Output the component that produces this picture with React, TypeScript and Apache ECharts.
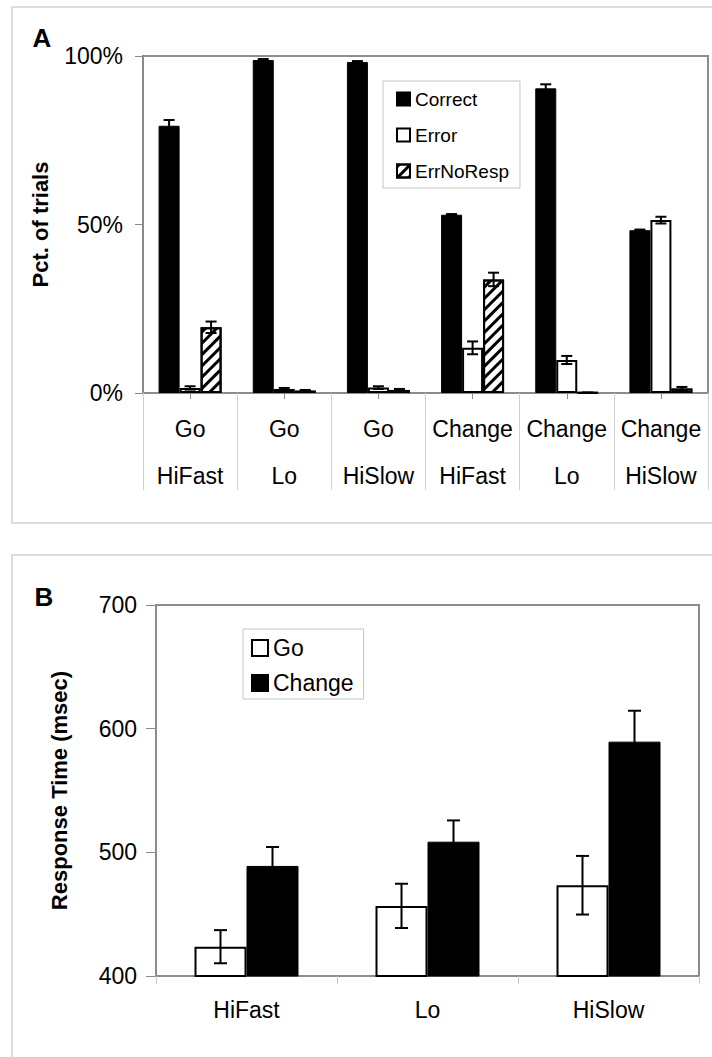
import React, { useEffect, useRef } from 'react';
import * as echarts from 'echarts';

// ---- Panel A data ----
const catsA = ['Go\nHiFast', 'Go\nLo', 'Go\nHiSlow', 'Change\nHiFast', 'Change\nLo', 'Change\nHiSlow'];
const correctPct = [79.3, 98.8, 98.2, 52.9, 90.4, 48.3];
const correctErr = [1.7, 0.3, 0.3, 0.2, 1.2, 0.2];
const errorPct = [1.5, 1.2, 1.6, 13.4, 9.8, 51.3];
const errorErr = [0.5, 0.3, 0.4, 1.9, 1.2, 1.0];
const noRespPct = [19.5, 0.7, 0.9, 33.7, 0.1, 1.3];
const noRespErr = [1.7, 0.2, 0.3, 2.0, 0.0, 0.5];
const ticksA = [0, 50, 100];

// ---- Panel B data ----
const catsB = ['HiFast', 'Lo', 'HiSlow'];
const goRT = [423.7, 456.7, 473.4];
const goErr = [13.4, 17.9, 23.7];
const changeRT = [489.0, 508.6, 589.5];
const changeErr = [15.3, 17.2, 25.0];
const ticksB = [400, 500, 600, 700];

const FONT = '"Liberation Sans", Arial, sans-serif';
const AXIS_GRAY = '#8c8c8c';

function errorSeries(xAxisIndex: number, yAxisIndex: number, values: number[], errs: number[], offset: number, cap: number) {
  return {
    type: 'custom',
    xAxisIndex,
    yAxisIndex,
    silent: true,
    z: 10,
    encode: { x: 0, y: 1 },
    data: values.map((v, i) => [i, v, errs[i]]),
    renderItem: (_params: any, api: any) => {
      const i = api.value(0);
      const v = api.value(1);
      const e = api.value(2);
      const hi = api.coord([i, v + e]);
      const lo = api.coord([i, v - e]);
      const x = hi[0] + offset;
      const style = { stroke: '#000', lineWidth: 2, fill: null };
      return {
        type: 'group',
        children: [
          { type: 'line', shape: { x1: x, y1: hi[1], x2: x, y2: lo[1] }, style },
          { type: 'line', shape: { x1: x - cap / 2, y1: hi[1], x2: x + cap / 2, y2: hi[1] }, style },
          { type: 'line', shape: { x1: x - cap / 2, y1: lo[1], x2: x + cap / 2, y2: lo[1] }, style },
        ],
      };
    },
  };
}

export default function App() {
  const ref = useRef<HTMLDivElement>(null);

  useEffect(() => {
    if (!ref.current) return;
    const chart = echarts.init(ref.current, undefined, { renderer: 'svg' });
    const hatch = {
      symbol: 'rect',
      symbolSize: 1,
      dashArrayX: [1, 0],
      dashArrayY: [3, 5],
      rotation: -Math.PI / 4,
      color: '#000',
      backgroundColor: '#fff',
    };
    const option: any = {
      animation: false,
      backgroundColor: '#fff',
      textStyle: { fontFamily: FONT, color: '#000' },
      graphic: [
        { type: 'rect', shape: { x: 12, y: 7, width: 740, height: 516 }, style: { fill: 'none', stroke: '#d2d2d2', lineWidth: 1.5 }, z: -1 },
        { type: 'rect', shape: { x: 12, y: 555, width: 740, height: 600 }, style: { fill: 'none', stroke: '#d2d2d2', lineWidth: 1.5 }, z: -1 },
        { type: 'text', x: 42, y: 38, style: { text: 'A', font: `bold 26px ${FONT}`, fill: '#000', align: 'center', verticalAlign: 'middle' } },
        { type: 'text', x: 44, y: 597, style: { text: 'B', font: `bold 26px ${FONT}`, fill: '#000', align: 'center', verticalAlign: 'middle' } },
      ],
      grid: [
        { left: 143, top: 56, width: 565, height: 337, show: true, borderColor: AXIS_GRAY, borderWidth: 2, backgroundColor: 'transparent' },
        { left: 156, top: 605, width: 543, height: 371, show: true, borderColor: AXIS_GRAY, borderWidth: 2, backgroundColor: 'transparent' },
      ],
      legend: [
        {
          data: ['Correct', 'Error', 'ErrNoResp'],
          orient: 'vertical',
          left: 383,
          top: 81,
          padding: [8, 11, 7, 13],
          itemWidth: 13,
          itemHeight: 13,
          itemGap: 16,
          icon: 'rect',
          borderColor: '#c4c4c4',
          borderWidth: 1,
          selectedMode: false,
          textStyle: { fontSize: 19, lineHeight: 20, color: '#000', fontFamily: FONT },
        },
        {
          data: ['Go', 'Change'],
          orient: 'vertical',
          left: 243,
          top: 629,
          padding: [7, 10, 4, 8],
          itemWidth: 16,
          itemHeight: 16,
          itemGap: 11,
          icon: 'rect',
          borderColor: '#c4c4c4',
          borderWidth: 1,
          selectedMode: false,
          textStyle: { fontSize: 23, lineHeight: 24, color: '#000', fontFamily: FONT },
        },
      ],
      xAxis: [
        {
          type: 'category',
          gridIndex: 0,
          data: catsA,
          axisLine: { lineStyle: { color: AXIS_GRAY, width: 2 } },
          axisTick: { show: true, interval: 0, length: 97, lineStyle: { color: '#d0d0d0', width: 1 } },
          axisLabel: { interval: 0, fontSize: 23, lineHeight: 47, margin: 12, color: '#000', fontFamily: FONT },
        },
        {
          type: 'category',
          gridIndex: 0,
          position: 'bottom',
          data: catsA,
          axisLine: { show: false },
          axisTick: { show: true, interval: 0, alignWithLabel: true, length: 6, lineStyle: { color: AXIS_GRAY, width: 1 } },
          axisLabel: { show: false },
        },
        {
          type: 'category',
          gridIndex: 1,
          data: catsB,
          axisLine: { lineStyle: { color: AXIS_GRAY, width: 2 } },
          axisTick: { show: true, interval: 0, length: 8, lineStyle: { color: '#c8c8c8', width: 1 } },
          axisLabel: { interval: 0, fontSize: 23, lineHeight: 24, margin: 22, color: '#000', fontFamily: FONT },
        },
      ],
      yAxis: [
        {
          type: 'value',
          gridIndex: 0,
          min: ticksA[0],
          max: ticksA[ticksA.length - 1],
          interval: ticksA[1] - ticksA[0],
          name: 'Pct. of trials',
          nameLocation: 'middle',
          nameGap: 92,
          nameTextStyle: { fontSize: 22, fontWeight: 'bold', color: '#000', fontFamily: FONT },
          axisLine: { show: true, lineStyle: { color: AXIS_GRAY, width: 2 } },
          axisTick: { show: true, length: 8, lineStyle: { color: AXIS_GRAY, width: 1 } },
          splitLine: { show: false },
          axisLabel: { formatter: '{value}%', fontSize: 23, margin: 20, color: '#000', fontFamily: FONT },
        },
        {
          type: 'value',
          gridIndex: 1,
          min: ticksB[0],
          max: ticksB[ticksB.length - 1],
          interval: ticksB[1] - ticksB[0],
          name: 'Response Time (msec)',
          nameLocation: 'middle',
          nameGap: 86,
          nameTextStyle: { fontSize: 22, fontWeight: 'bold', color: '#000', fontFamily: FONT },
          axisLine: { show: true, lineStyle: { color: AXIS_GRAY, width: 2 } },
          axisTick: { show: true, length: 10, lineStyle: { color: AXIS_GRAY, width: 1 } },
          splitLine: { show: false },
          axisLabel: { fontSize: 23, margin: 19, color: '#000', fontFamily: FONT },
        },
      ],
      series: [
        {
          name: 'Correct', type: 'bar', xAxisIndex: 0, yAxisIndex: 0, barWidth: 21, barGap: '0%',
          itemStyle: { color: '#000', borderColor: '#000', borderWidth: 1 },
          data: correctPct,
        },
        {
          name: 'Error', type: 'bar', xAxisIndex: 0, yAxisIndex: 0, barWidth: 21, barGap: '0%',
          itemStyle: { color: '#fff', borderColor: '#000', borderWidth: 2 },
          data: errorPct,
        },
        {
          name: 'ErrNoResp', type: 'bar', xAxisIndex: 0, yAxisIndex: 0, barWidth: 21, barGap: '0%',
          itemStyle: { color: '#fff', borderColor: '#000', borderWidth: 2, decal: hatch },
          data: noRespPct,
        },
        errorSeries(0, 0, correctPct, correctErr, -21, 11),
        errorSeries(0, 0, errorPct, errorErr, 0, 11),
        errorSeries(0, 0, noRespPct, noRespErr, 21, 11),
        {
          name: 'Go', type: 'bar', xAxisIndex: 2, yAxisIndex: 1, barWidth: 52, barGap: '0%',
          itemStyle: { color: '#fff', borderColor: '#000', borderWidth: 2 },
          data: goRT,
        },
        {
          name: 'Change', type: 'bar', xAxisIndex: 2, yAxisIndex: 1, barWidth: 52, barGap: '0%',
          itemStyle: { color: '#000', borderColor: '#000', borderWidth: 1 },
          data: changeRT,
        },
        errorSeries(2, 1, goRT, goErr, -26, 13),
        errorSeries(2, 1, changeRT, changeErr, 26, 13),
      ],
    };
    chart.setOption(option);
    return () => chart.dispose();
  }, []);

  return (
    <div
      ref={ref}
      style={{ position: 'absolute', left: 0, top: 0, width: 712, height: 1057, background: '#fff' }}
    />
  );
}
